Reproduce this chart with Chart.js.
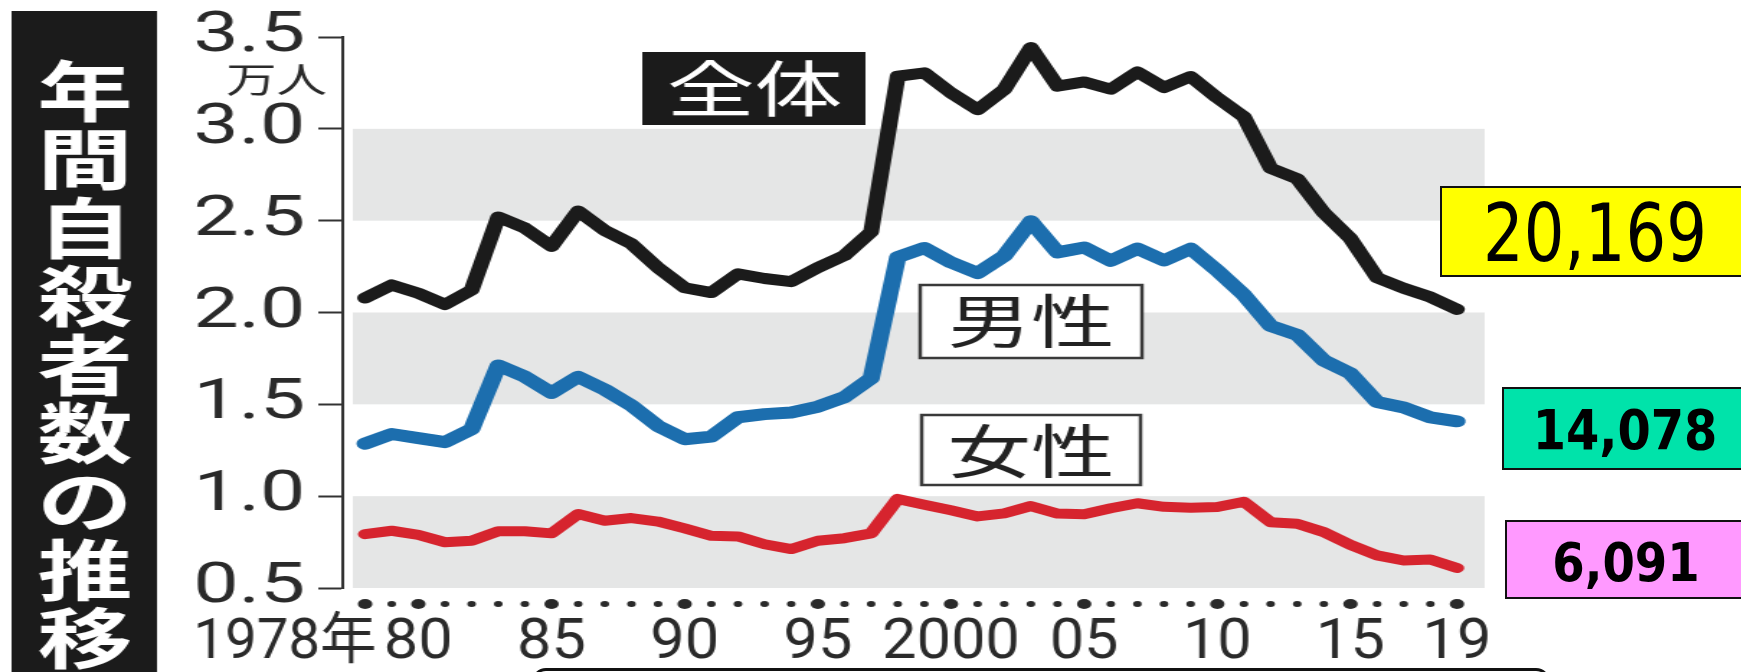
<!DOCTYPE html>
<html lang="ja">
<head>
<meta charset="utf-8">
<title>年間自殺者数の推移</title>
<script src="https://cdn.jsdelivr.net/npm/chart.js@4.4.1/dist/chart.umd.min.js"></script>
<style>
  html,body{margin:0;padding:0;background:#fff;overflow:hidden;}
  #wrap{position:relative;width:1741px;height:672px;overflow:hidden;}
  #c{position:absolute;left:0;top:0;}
  .box{position:absolute;border:2px solid #111;box-sizing:border-box;}
  .num{position:absolute;font-family:'DejaVu Sans',sans-serif;color:#000;line-height:1;white-space:nowrap;}
  #frame{position:absolute;left:532px;top:668px;width:1018px;height:40px;border:3px solid #111;border-radius:14px;box-sizing:border-box;}
</style>
</head>
<body>
<div id="wrap">
  <canvas id="c" width="1209" height="672" style="width:1741px;height:672px;"></canvas>
  <div id="frame"></div>
</div>
<script>
// yearly suicides, unit: 10,000 people (万人)
const years = [1978,1979,1980,1981,1982,1983,1984,1985,1986,1987,1988,1989,1990,1991,1992,1993,1994,1995,1996,1997,
  1998,1999,2000,2001,2002,2003,2004,2005,2006,2007,2008,2009,2010,2011,2012,2013,2014,2015,2016,2017,2018,2019];
const total = [2.0788,2.1503,2.1048,2.0434,2.1228,2.5202,2.4596,2.3599,2.5524,2.4460,2.3742,2.2436,2.1346,2.1084,2.2104,2.1851,2.1679,2.2445,2.3104,2.4391,
  3.2863,3.3048,3.1957,3.1042,3.2143,3.4427,3.2325,3.2552,3.2155,3.3093,3.2249,3.2845,3.1690,3.0651,2.7858,2.7283,2.5427,2.4025,2.1897,2.1321,2.0840,2.0169];
const male = [1.2859,1.3386,1.3155,1.2942,1.3654,1.7116,1.6508,1.5624,1.6497,1.5802,1.4934,1.3818,1.3102,1.3242,1.4296,1.4468,1.4560,1.4874,1.5393,1.6416,
  2.3013,2.3512,2.2727,2.2144,2.3080,2.4963,2.3272,2.3540,2.2813,2.3478,2.2831,2.3472,2.2283,2.0955,1.9273,1.8787,1.7386,1.6681,1.5121,1.4826,1.4290,1.4078];
const female = [0.7929,0.8117,0.7893,0.7492,0.7574,0.8086,0.8088,0.7975,0.9027,0.8658,0.8808,0.8618,0.8244,0.7842,0.7808,0.7383,0.7119,0.7571,0.7711,0.7975,
  0.9850,0.9536,0.9230,0.8898,0.9063,0.9464,0.9053,0.9012,0.9342,0.9615,0.9418,0.9373,0.9407,0.9696,0.8585,0.8496,0.8041,0.7344,0.6776,0.6495,0.6550,0.6091];

const seriesNames = ['全体','男性','女性'];
const seriesColors = ['#1b1b1b','#1c6eae','#d6242e'];
const bandRanges = [[2.5,3.0],[1.5,2.0],[0.5,1.0]];
const tickYears = [1978,1980,1985,1990,1995,2000,2005,2010,2015,2019];
const tickText = ['1978年','80','85','90','95','2000','05','10','15','19'];
const sideTitle = '年間自殺者数の推移';
const unitText = '万人';

const toXY = arr => arr.map((v,i)=>({x:years[i], y:v}));

// the artwork is drawn narrow and stretched 1.44x by the canvas style width
const deco = {
  id:'deco',
  beforeDatasetsDraw(chart){
    const {ctx, chartArea:a, scales:{y}} = chart;
    ctx.save();
    ctx.fillStyle = '#e5e6e6';
    bandRanges.forEach(([lo,hi])=>{
      const t = y.getPixelForValue(hi), b = y.getPixelForValue(lo);
      ctx.fillRect(a.left+7, t, a.right-a.left-7, b-t);
    });
    ctx.restore();
  },
  afterDatasetsDraw(chart){
    const {ctx} = chart;
    ctx.save();
    ctx.textAlign = 'center';
    ctx.textBaseline = 'middle';
    // 全体 tag
    ctx.fillStyle = '#1b1b1b';
    ctx.fillRect(446, 52, 155, 73);
    ctx.fillStyle = '#fff';
    ctx.font = "61px 'Noto Sans CJK JP'";
    ctx.fillText(seriesNames[0], 524, 89);
    // 男性 / 女性 tags
    [[639,285,154,73,1,321],[640,415,152,70,2,451]].forEach(([bx,by,bw,bh,k,ty])=>{
      ctx.fillStyle = '#fff';
      ctx.fillRect(bx, by, bw, bh);
      ctx.strokeStyle = '#3a3a3a';
      ctx.lineWidth = 2.5;
      ctx.strokeRect(bx, by, bw, bh);
      ctx.fillStyle = '#222';
      ctx.font = "58px 'Noto Sans CJK JP'";
      ctx.fillText(seriesNames[k], bx+bw/2, ty);
    });
    ctx.restore();
  },
  afterDraw(chart){
    const {ctx, scales:{x}} = chart;
    ctx.save();
    // vertical title bar
    ctx.fillStyle = '#1b1b1b';
    ctx.fillRect(8, 11, 101, 661);
    ctx.fillStyle = '#fff';
    ctx.font = "bold 66px 'Noto Sans CJK JP'";
    ctx.textAlign = 'center';
    ctx.textBaseline = 'middle';
    [...sideTitle].forEach((ch,i)=>ctx.fillText(ch, 59, 91+i*68.4));
    // unit under the top tick
    ctx.fillStyle = '#2a2a2a';
    ctx.font = "35px 'Noto Sans CJK JP'";
    ctx.textAlign = 'right';
    ctx.fillText(unitText, 227, 80);
    // one dot per year, big ones on labelled years
    years.forEach(yr=>{
      ctx.beginPath();
      ctx.arc(x.getPixelForValue(yr), 604, tickYears.includes(yr) ? 5 : 3, 0, Math.PI*2);
      ctx.fill();
    });
    // year labels use a narrower face than the value axis
    ctx.font = "56px Roboto, 'Noto Sans CJK JP'";
    ctx.textBaseline = 'alphabetic';
    tickYears.forEach((yr,i)=>{
      const px = x.getPixelForValue(yr);
      ctx.save();
      ctx.translate(i===0 ? px+8 : px, 658);
      ctx.scale(i===0 ? 0.7 : 0.76, 1);
      ctx.textAlign = i===0 ? 'right' : 'center';
      ctx.fillText(tickText[i], 0, 0);
      ctx.restore();
    });
    ctx.restore();
  }
};

const ds = (data,k,w)=>({
  label:seriesNames[k], data:toXY(data), borderColor:seriesColors[k], borderWidth:w,
  pointRadius:0, tension:0, borderJoinStyle:'round', borderCapStyle:'round', fill:false
});

new Chart(document.getElementById('c'),{
  type:'line',
  data:{datasets:[ds(female,2,10), ds(male,1,12), ds(total,0,11)]},
  options:{
    responsive:false, animation:false, events:[],
    layout:{padding:{top:31,right:178,bottom:0,left:0}},
    plugins:{legend:{display:false}, tooltip:{enabled:false}},
    scales:{
      x:{type:'linear', min:1977.16, max:2020.04,
        grid:{display:false}, border:{display:false}, ticks:{display:false},
        afterFit:s=>{s.height=84;}},
      y:{min:0.5, max:3.5,
        afterFit:s=>{s.width=238;},
        grid:{drawOnChartArea:false, drawTicks:true, tickLength:17, tickColor:'#333', tickWidth:2},
        border:{display:true, color:'#333', width:2},
        ticks:{stepSize:0.5, padding:9, color:'#2a2a2a',
          font:{family:"Roboto, 'Noto Sans CJK JP'", size:56, weight:'normal', lineHeight:1},
          callback:v=>v.toFixed(1)}}
    }
  },
  plugins:[deco]
});

// latest-year figures boxed at the right edge
const lastIdx = years.length-1;
const boxes = [
  {v:total[lastIdx],  bg:'#ffff00', l:1440, t:186, h:91, cx:1595, cy:234, size:80, weight:'normal', sx:0.8},
  {v:male[lastIdx],   bg:'#00e3aa', l:1502, t:387, h:83, cx:1625, cy:430, size:55, weight:'bold', sx:0.87},
  {v:female[lastIdx], bg:'#ff99ff', l:1505, t:520, h:79, cx:1626, cy:562, size:53, weight:'bold', sx:0.88}
];
const wrap = document.getElementById('wrap');
boxes.forEach(b=>{
  const d = document.createElement('div');
  d.className = 'box';
  d.style.cssText = `left:${b.l}px;top:${b.t}px;width:${1746-b.l}px;height:${b.h}px;background:${b.bg};`;
  wrap.appendChild(d);
  const s = document.createElement('div');
  s.className = 'num';
  s.textContent = Math.round(b.v*10000).toLocaleString('en-US');
  s.style.cssText = `left:${b.cx}px;top:${b.cy}px;font-size:${b.size}px;font-weight:${b.weight};transform:translate(-50%,-50%) scaleX(${b.sx});`;
  wrap.appendChild(s);
});
</script>
</body>
</html>
